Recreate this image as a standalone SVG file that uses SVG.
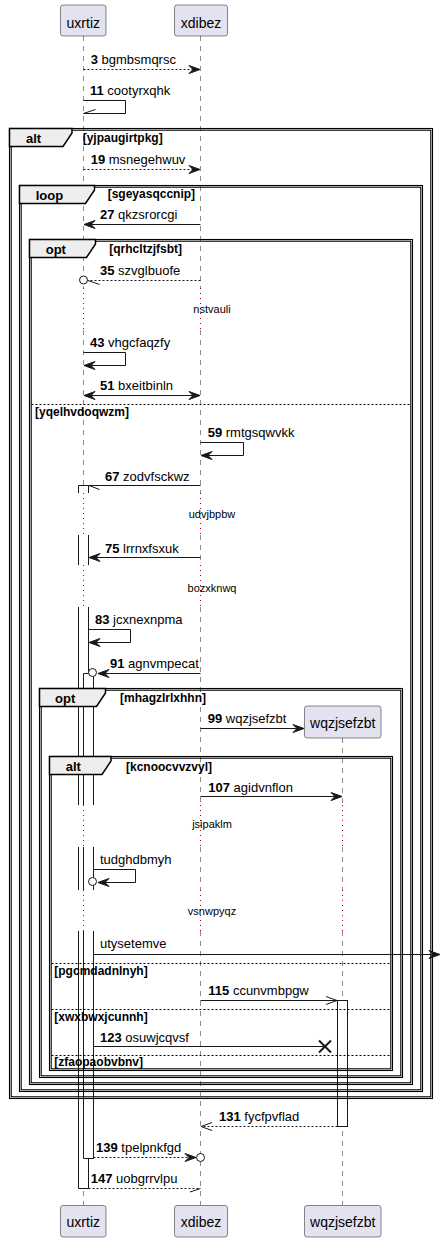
<svg xmlns="http://www.w3.org/2000/svg" width="441" height="1242" viewBox="0 0 441 1242">
<style>
text{font-family:"Liberation Sans",Arial,sans-serif;fill:#000}
.p{fill:#E2E2F0;stroke:#181818;stroke-width:0.5}
.pt{font-size:14px;text-anchor:middle}
.ll{stroke:#181818;stroke-width:0.5;stroke-dasharray:5,5;fill:none}
.dl{stroke:#A80036;stroke-width:1;stroke-dasharray:1,4;fill:none}
.act{fill:#fff;stroke:none}
.ae{stroke:#181818;stroke-width:1;fill:none}
.m{stroke:#181818;stroke-width:1;fill:none}
.d{stroke-dasharray:2,2}
.ah{fill:#181818;stroke:#181818;stroke-width:1}
.ci{fill:#fff;stroke:#181818;stroke-width:1}
.x{stroke:#181818;stroke-width:2}
.mt{font-size:13px}
.b{font-weight:bold}
.fr{fill:none;stroke:#000;stroke-width:1.1}
.tab{fill:#EEEEEE;stroke:#000;stroke-width:1.5}
.fl{font-size:13px;font-weight:bold}
.g{font-size:12px;font-weight:bold}
.sep{stroke:#000;stroke-width:1;stroke-dasharray:2,2}
.dt{font-size:11px;text-anchor:middle}
</style>

<g id="lifelines">
<path class="ll" d="M83.5,36V288M83.5,330V493M83.5,535V565M83.5,607V805M83.5,847V890M83.5,931V1205"/>
<path class="ll" d="M200.5,36V288M200.5,330V493M200.5,535V565M200.5,607V805M200.5,847V890M200.5,931V1205"/>
<path class="ll" d="M342.5,738V805M342.5,847V890M342.5,931V1205"/>
<path class="dl" d="M83.5,288V330M83.5,493V535M83.5,565V607M83.5,805V847M83.5,890V931"/>
<path class="dl" d="M200.5,288V330M200.5,493V535M200.5,565V607M200.5,805V847M200.5,890V931"/>
<path class="dl" d="M342.5,805V847M342.5,890V931"/>
</g>

<g id="uxrtiz">
<rect class="p" x="60.5" y="5" width="45.5" height="31" rx="2.5"/>
<text class="pt" x="83.3" y="28.3">uxrtiz</text>
<rect class="p" x="60.5" y="1205.5" width="45.5" height="31.5" rx="2.5"/>
<text class="pt" x="83.3" y="1226.7">uxrtiz</text>
</g>
<g id="xdibez">
<rect class="p" x="174.5" y="5" width="53" height="31" rx="2.5"/>
<text class="pt" x="201" y="28.3">xdibez</text>
<rect class="p" x="174.5" y="1205.5" width="53" height="31.5" rx="2.5"/>
<text class="pt" x="201" y="1226.7">xdibez</text>
</g>
<g id="wqzjsefzbt">
<rect class="p" x="304.5" y="706" width="76.5" height="32" rx="2.5"/>
<text class="pt" x="342.7" y="728">wqzjsefzbt</text>
<rect class="p" x="304.5" y="1205.5" width="76.5" height="31.5" rx="2.5"/>
<text class="pt" x="342.7" y="1226.7">wqzjsefzbt</text>
</g>

<g id="activations">
<rect class="act" x="78.5" y="485.5" width="10" height="7.5"/>
<rect class="act" x="78.5" y="535" width="10" height="30"/>
<rect class="act" x="78.5" y="607" width="10" height="198"/>
<rect class="act" x="78.5" y="847" width="10" height="43"/>
<rect class="act" x="78.5" y="931" width="10" height="257.5"/>
<path class="ae" d="M78.5,493V485.5H88.5V493M78.5,535V565M88.5,535V565M78.5,607V805M88.5,607V805M78.5,847V890M88.5,847V890M78.5,931V1188.5H88.5V931"/>
<rect class="act" x="83.5" y="673.5" width="10" height="131.5"/>
<rect class="act" x="83.5" y="847" width="10" height="43"/>
<rect class="act" x="83.5" y="931" width="10" height="227.5"/>
<path class="ae" d="M83.5,805V673.5H93.5V805M83.5,847V890M93.5,847V890M83.5,931V1158.5H93.5V931"/>
<rect class="act ae" x="337.5" y="1000.5" width="10" height="126" style="fill:#fff"/>
</g>

<g id="frames">
<rect class="fr" x="9.5" y="128.5" width="423" height="970"/>
<rect class="fr" x="11.2" y="130.2" width="419.6" height="966.6"/>
<path class="tab" d="M9.5,128.5H72V133L63,146.5H9.5Z"/>
<text class="fl" x="26" y="143">alt</text>
<text class="g" x="82.7" y="141.7">[yjpaugirtpkg]</text>

<rect class="fr" x="19.5" y="185.5" width="403" height="906"/>
<rect class="fr" x="21.2" y="187.2" width="399.6" height="902.6"/>
<path class="tab" d="M19.5,185.5H94.5V190L85.5,203.5H19.5Z"/>
<text class="fl" x="35.7" y="199.5">loop</text>
<text class="g" x="107.7" y="197.5">[sgeyasqccnip]</text>

<rect class="fr" x="29.5" y="239.5" width="383" height="845"/>
<rect class="fr" x="31.2" y="241.2" width="379.6" height="841.6"/>
<path class="tab" d="M29.5,239.5H95.5V244L86.5,257.5H29.5Z"/>
<text class="fl" x="45.7" y="253.5">opt</text>
<text class="g" x="109.3" y="252.7">[qrhcltzjfsbt]</text>
<line class="sep" x1="31.5" y1="404.5" x2="410.5" y2="404.5"/>
<text class="g" x="35" y="416">[yqelhvdoqwzm]</text>

<rect class="fr" x="39.5" y="688.5" width="363" height="389"/>
<rect class="fr" x="41.2" y="690.2" width="359.6" height="385.6"/>
<path class="tab" d="M39.5,688.5H105.5V693L96.5,706.5H39.5Z"/>
<text class="fl" x="55" y="702.5">opt</text>
<text class="g" x="120" y="701.7">[mhagzlrlxhhn]</text>

<rect class="fr" x="49.5" y="756.5" width="343" height="314"/>
<rect class="fr" x="51.2" y="758.2" width="339.6" height="310.6"/>
<path class="tab" d="M49.5,756.5H111V761L102,774.5H49.5Z"/>
<text class="fl" x="65.7" y="771">alt</text>
<text class="g" x="126" y="770.5">[kcnoocvvzvyl]</text>
<line class="sep" x1="51.5" y1="963.5" x2="390.5" y2="963.5"/>
<text class="g" x="54.3" y="975">[pgcmdadnlnyh]</text>
<line class="sep" x1="51.5" y1="1009.5" x2="390.5" y2="1009.5"/>
<text class="g" x="54.3" y="1020.7">[xwxbwxjcunnh]</text>
<line class="sep" x1="51.5" y1="1055.5" x2="390.5" y2="1055.5"/>
<text class="g" x="54.3" y="1066">[zfaopaobvbnv]</text>
</g>

<g id="delays">
<text class="dt" x="212" y="313.3">nstvauli</text>
<text class="dt" x="212" y="518.3">udvjbpbw</text>
<text class="dt" x="212" y="591.7">bozxknwq</text>
<text class="dt" x="212" y="828.3">jsipaklm</text>
<text class="dt" x="212" y="915">vsnwpyqz</text>
</g>

<g id="connectors">
<line class="m d" x1="83.5" y1="69.5" x2="199" y2="69.5"/>
<polygon class="ah" points="200,69.5 189,65.5 193,69.5 189,73.5"/>
<text class="mt" x="90.7" y="64.3"><tspan class="b">3</tspan> bgmbsmqrsc</text>

<path class="m" d="M83.5,100.5H125.5V113.5H83.5"/>
<line class="m" x1="83.5" y1="113.5" x2="95.5" y2="109.5"/>
<text class="mt" x="90" y="94.5"><tspan class="b">11</tspan> cootyrxqhk</text>

<line class="m d" x1="83.5" y1="169.5" x2="199" y2="169.5"/>
<polygon class="ah" points="200,169.5 189,165.5 193,169.5 189,173.5"/>
<text class="mt" x="90.7" y="164.3"><tspan class="b">19</tspan> msnegehwuv</text>

<line class="m" x1="200.5" y1="224.5" x2="85" y2="224.5"/>
<polygon class="ah" points="84,224.5 95,220.5 91,224.5 95,228.5"/>
<text class="mt" x="100" y="219.3"><tspan class="b">27</tspan> qkzsrorcgi</text>

<line class="m d" x1="200.5" y1="280.5" x2="87.5" y2="280.5"/>
<line class="m" x1="88" y1="280.5" x2="99.5" y2="284.5"/>
<circle class="ci" cx="83.5" cy="280" r="4"/>
<text class="mt" x="100" y="275.3"><tspan class="b">35</tspan> szvglbuofe</text>

<path class="m" d="M83.5,352.5H125.5V365.5H85"/>
<polygon class="ah" points="84,365.5 95,361.5 91,365.5 95,369.5"/>
<text class="mt" x="90" y="347.3"><tspan class="b">43</tspan> vhgcfaqzfy</text>

<line class="m" x1="85" y1="395.5" x2="199" y2="395.5"/>
<polygon class="ah" points="84,395.5 95,391.5 91,395.5 95,399.5"/>
<polygon class="ah" points="200,395.5 189,391.5 193,395.5 189,399.5"/>
<text class="mt" x="100" y="390.3"><tspan class="b">51</tspan> bxeitbinln</text>

<path class="m" d="M200.5,442.5H243.5V455.5H202"/>
<polygon class="ah" points="201,455.5 212,451.5 208,455.5 212,459.5"/>
<text class="mt" x="207.7" y="436.7"><tspan class="b">59</tspan> rmtgsqwvkk</text>

<line class="m" x1="200.5" y1="485.5" x2="88.5" y2="485.5"/>
<line class="m" x1="89" y1="485.5" x2="99.5" y2="489.5"/>
<text class="mt" x="105" y="480.7"><tspan class="b">67</tspan> zodvfsckwz</text>

<line class="m" x1="200.5" y1="557.5" x2="90" y2="557.5"/>
<polygon class="ah" points="89,557.5 100,553.5 96,557.5 100,561.5"/>
<text class="mt" x="105" y="552.7"><tspan class="b">75</tspan> lrrnxfsxuk</text>

<path class="m" d="M88.5,629.5H130.5V642.5H90"/>
<polygon class="ah" points="89,642.5 100,638.5 96,642.5 100,646.5"/>
<text class="mt" x="95" y="624.3"><tspan class="b">83</tspan> jcxnexnpma</text>

<line class="m" x1="200.5" y1="673.5" x2="99" y2="673.5"/>
<polygon class="ah" points="98,673.5 109,669.5 105,673.5 109,677.5"/>
<circle class="ci" cx="92.5" cy="672.5" r="4"/>
<text class="mt" x="110" y="667.7"><tspan class="b">91</tspan> agnvmpecat</text>

<line class="m" x1="200.5" y1="728.5" x2="303" y2="728.5"/>
<polygon class="ah" points="304,728.5 293,724.5 297,728.5 293,732.5"/>
<text class="mt" x="207.7" y="722.7"><tspan class="b">99</tspan> wqzjsefzbt</text>

<line class="m" x1="200.5" y1="796.5" x2="341" y2="796.5"/>
<polygon class="ah" points="342,796.5 331,792.5 335,796.5 331,800.5"/>
<text class="mt" x="208.3" y="791.7"><tspan class="b">107</tspan> agidvnflon</text>

<path class="m" d="M93.5,869.5H135.5V882.5H99"/>
<polygon class="ah" points="98,882.5 109,878.5 105,882.5 109,886.5"/>
<circle class="ci" cx="92.5" cy="881.5" r="4"/>
<text class="mt" x="100" y="864">tudghdbmyh</text>

<line class="m" x1="93.5" y1="954.5" x2="439" y2="954.5"/>
<polygon class="ah" points="440,954.5 429,950.5 433,954.5 429,958.5"/>
<text class="mt" x="100" y="948.3">utysetemve</text>

<line class="m" x1="200.5" y1="1000.5" x2="337" y2="1000.5"/>
<path class="m" d="M326,996.5L337,1000.5L326,1004.5"/>
<text class="mt" x="208.3" y="995"><tspan class="b">115</tspan> ccunvmbpgw</text>

<line class="m" x1="93.5" y1="1046.5" x2="325" y2="1046.5"/>
<path class="x" d="M319,1040.5L331,1052.5M319,1052.5L331,1040.5"/>
<text class="mt" x="100" y="1041.7"><tspan class="b">123</tspan> osuwjcqvsf</text>

<line class="m d" x1="337.5" y1="1126.5" x2="201" y2="1126.5"/>
<path class="m" d="M212,1122.5L201,1126.5L212,1130.5"/>
<text class="mt" x="219" y="1120.7"><tspan class="b">131</tspan> fycfpvflad</text>

<line class="m d" x1="93.5" y1="1157.5" x2="195" y2="1157.5"/>
<polygon class="ah" points="196,1157.5 185,1153.5 189,1157.5 185,1161.5"/>
<circle class="ci" cx="200.5" cy="1157.5" r="4"/>
<text class="mt" x="96" y="1152.3"><tspan class="b">139</tspan> tpelpnkfgd</text>

<line class="m d" x1="88.5" y1="1188.5" x2="200.5" y2="1188.5"/>
<line class="m" x1="190" y1="1192" x2="200.5" y2="1188.5"/>
<text class="mt" x="90.7" y="1183.3"><tspan class="b">147</tspan> uobgrrvlpu</text>
</g>
</svg>
